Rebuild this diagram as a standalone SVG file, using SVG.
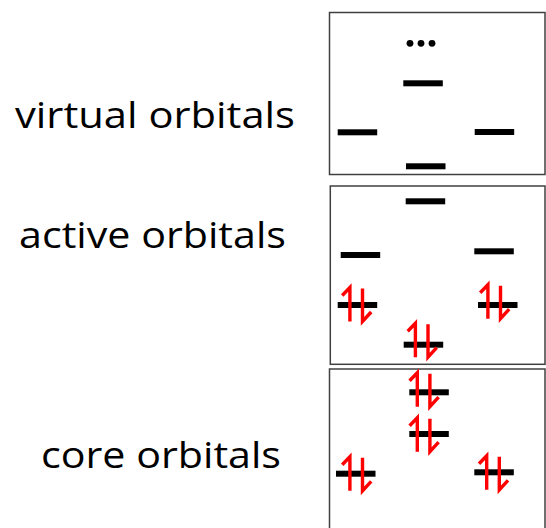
<svg xmlns="http://www.w3.org/2000/svg" xmlns:xlink="http://www.w3.org/1999/xlink" width="546" height="528" viewBox="0 0 546 528">
  <style>
    .frame { fill: #ffffff; stroke: #404040; stroke-width: 1.5; }
    .level { fill: #000000; }
    .label { font-family: "Open Sans", "Noto Sans", "Liberation Sans", sans-serif; font-size: 37px; fill: #000000; }
    .spin { fill: none; stroke: #ff0000; stroke-width: 3.4; stroke-linecap: butt; stroke-linejoin: miter; }
  </style>
  <defs>
    <!-- spin-paired electrons: up half-arrow on the left, down half-arrow on the right -->
    <g id="pair">
      <path class="spin" d="M-14,-9 L-6.3,-17 L-6.3,17"/>
      <path class="spin" d="M6.3,-16 L6.3,17 L15,7.5"/>
    </g>
  </defs>

  <rect width="546" height="528" fill="#ffffff"/>

  <!-- labels -->
  <g id="label-virtual">
    <text class="label" x="15" y="127.5" textLength="280" lengthAdjust="spacingAndGlyphs">virtual orbitals</text>
  </g>
  <g id="label-active">
    <text class="label" x="19" y="247.5" textLength="267" lengthAdjust="spacingAndGlyphs">active orbitals</text>
  </g>
  <g id="label-core">
    <text class="label" x="41" y="467.5" textLength="240" lengthAdjust="spacingAndGlyphs">core orbitals</text>
  </g>

  <!-- virtual orbitals panel -->
  <g id="virtual">
    <rect class="frame" x="329.5" y="12.5" width="215.5" height="162"/>
    <circle cx="410" cy="43.3" r="3.4"/>
    <circle cx="421" cy="43.3" r="3.4"/>
    <circle cx="432" cy="43.3" r="3.4"/>
    <rect class="level" x="403.3" y="80.3" width="39.5" height="6"/>
    <rect class="level" x="337.7" y="129.3" width="39.5" height="6"/>
    <rect class="level" x="474.7" y="129" width="39.5" height="6"/>
    <rect class="level" x="406" y="163.3" width="39.5" height="6"/>
  </g>

  <!-- active orbitals panel -->
  <g id="active">
    <rect class="frame" x="330.3" y="186" width="214.7" height="178.3"/>
    <rect class="level" x="405.7" y="198.3" width="39.5" height="6"/>
    <rect class="level" x="340.7" y="252" width="39.5" height="6"/>
    <rect class="level" x="474.3" y="248.3" width="39.5" height="6"/>
    <rect class="level" x="337.7" y="302" width="39.5" height="6"/>
    <rect class="level" x="478" y="302" width="39.5" height="6"/>
    <rect class="level" x="403.7" y="341.7" width="39.5" height="6"/>
    <use xlink:href="#pair" x="356.2" y="304.5"/>
    <use xlink:href="#pair" x="494.2" y="301.7"/>
    <use xlink:href="#pair" x="421.7" y="340.2"/>
  </g>

  <!-- core orbitals panel -->
  <g id="core">
    <rect class="frame" x="329.5" y="369" width="215.5" height="175"/>
    <rect class="level" x="409.3" y="389.3" width="39.5" height="6"/>
    <rect class="level" x="409.3" y="431" width="39.5" height="6"/>
    <rect class="level" x="336" y="470.7" width="39.5" height="6"/>
    <rect class="level" x="474.3" y="469.3" width="39.5" height="6"/>
    <use xlink:href="#pair" x="423.6" y="389.7"/>
    <use xlink:href="#pair" x="423.6" y="434.7"/>
    <use xlink:href="#pair" x="356.2" y="473.8"/>
    <use xlink:href="#pair" x="493" y="472.8"/>
  </g>
</svg>
